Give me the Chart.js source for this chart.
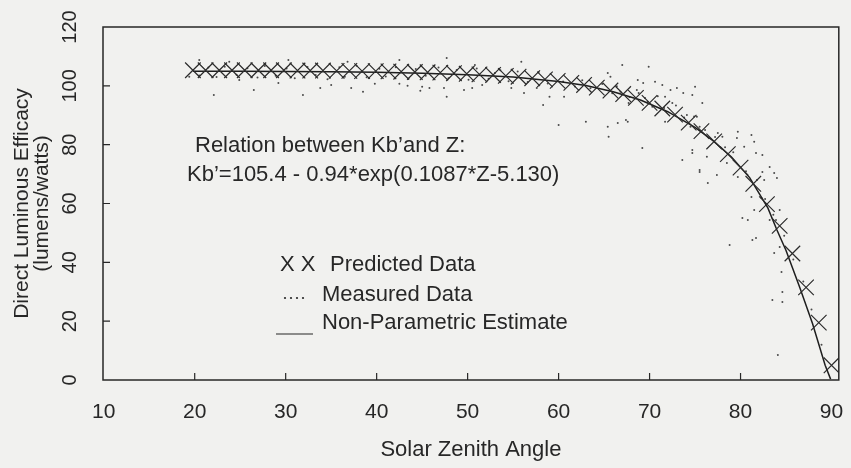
<!DOCTYPE html>
<html>
<head>
<meta charset="utf-8">
<script src="https://cdn.jsdelivr.net/npm/chart.js@4.4.1/dist/chart.umd.min.js"></script>
<style>
  html, body { margin: 0; padding: 0; background: #f1f1ef; }
  #wrap { width: 851px; height: 468px; position: relative; }
</style>
</head>
<body>
<div id="wrap"><canvas id="chart"></canvas></div>
<script>
// Predicted data (X markers)
const zenithPredicted = [
  19.8, 21.2, 22.7, 24.1, 25.5, 27.0, 28.4, 29.8, 31.3, 32.7,
  34.1, 35.6, 37.0, 38.4, 39.9, 41.3, 42.7, 44.2, 45.6, 47.0,
  48.5, 49.9, 51.3, 52.8, 54.2, 55.6, 57.1, 58.5, 59.9, 61.4,
  62.8, 64.2, 65.7, 67.1, 68.5, 70.0, 71.4, 72.8, 74.3, 75.7,
  77.1, 78.6, 80.0, 81.4, 82.9, 84.3, 85.7, 87.2, 88.6, 90.0
];
const kbPredicted = [
  105.3, 105.3, 105.3, 105.3, 105.3, 105.3, 105.3, 105.3, 105.2, 105.2,
  105.2, 105.1, 105.1, 105.0, 105.0, 104.9, 104.8, 104.7, 104.6, 104.5,
  104.3, 104.1, 103.9, 103.7, 103.4, 103.1, 102.6, 102.2, 101.7, 101.0,
  100.3, 99.4, 98.4, 97.2, 95.9, 94.2, 92.3, 90.2, 87.5, 84.6,
  81.1, 76.8, 72.2, 66.7, 59.8, 52.4, 43.0, 31.5, 19.5, 5.0
];

// Measured data (dots)
const zenithMeasured = [
  19.4, 20.5, 20.5, 21.5, 22.1, 22.4, 23.3, 23.8, 24.6, 24.9,
  25.8, 26.5, 26.9, 27.7, 28.9, 29.2, 30.1, 30.3, 31.0, 31.9,
  32.4, 33.3, 33.8, 34.6, 35.0, 35.9, 36.5, 36.8, 37.2, 37.8,
  38.5, 38.9, 39.8, 40.3, 41.0, 42.1, 42.5, 42.5, 43.4, 43.5,
  44.3, 44.8, 45.0, 45.4, 45.8, 46.8, 47.4, 47.7, 47.7, 47.9,
  48.8, 49.6, 50.1, 50.5, 50.8, 51.0, 51.6, 52.3, 53.0, 53.6,
  54.5, 54.8, 55.5, 55.9, 56.2, 56.6, 57.6, 57.8, 58.3, 58.8,
  59.0, 60.0, 60.5, 60.6, 61.8, 62.6, 63.0, 63.5, 64.8, 65.4,
  65.4, 65.5, 65.7, 65.9, 66.4, 66.5, 66.8, 67.0, 67.4, 67.6,
  67.7, 67.8, 68.6, 68.7, 68.8, 69.2, 69.3, 69.5, 69.8, 69.9,
  70.3, 70.6, 70.9, 71.4, 71.6, 71.7, 71.7, 72.3, 72.5, 72.9,
  73.0, 73.6, 73.7, 73.8, 74.1, 74.5, 74.7, 74.7, 74.7, 74.9,
  75.0, 75.2, 75.5, 75.5, 75.5, 75.8, 76.1, 76.3, 76.4, 77.2,
  77.4, 77.5, 78.0, 78.3, 78.5, 78.8, 79.2, 79.6, 79.7, 79.7,
  80.2, 80.4, 80.6, 80.8, 81.2, 81.2, 81.3, 81.5, 81.5, 81.7,
  81.7, 81.8, 82.3, 82.4, 82.4, 82.6, 82.7, 83.2, 83.2, 83.5,
  83.6, 83.7, 83.7, 83.9, 84.0, 84.1, 84.3, 84.3, 84.5, 84.6,
  84.6, 84.8, 85.8, 86.9, 87.8, 88.9
];
const kbMeasured = [
  103.1, 108.8, 103.5, 106.2, 96.9, 103.0, 106.5, 108.2, 103.8, 102.0,
  106.0, 98.6, 102.8, 106.7, 103.4, 101.0, 105.9, 108.8, 102.6, 96.9,
  106.4, 103.7, 99.3, 102.2, 100.3, 106.3, 103.1, 108.2, 99.3, 106.8,
  98.0, 102.9, 100.7, 105.8, 103.2, 106.3, 100.7, 108.8, 100.0, 102.4,
  105.7, 98.3, 99.7, 103.4, 99.3, 106.2, 99.3, 96.3, 109.5, 102.6,
  105.4, 98.6, 102.1, 99.3, 107.1, 105.9, 100.3, 102.4, 104.4, 105.3,
  101.6, 99.3, 104.9, 108.2, 97.6, 101.3, 99.3, 104.6, 93.5, 100.8,
  96.3, 86.7, 101.5, 96.3, 99.8, 101.9, 87.8, 99.2, 100.6, 104.4,
  86.1, 82.7, 103.1, 97.5, 99.9, 87.4, 98.0, 107.1, 88.4, 87.8,
  94.2, 96.2, 98.6, 102.0, 97.6, 78.9, 101.0, 95.9, 94.6, 106.5,
  92.9, 101.4, 96.5, 100.3, 92.5, 96.3, 87.8, 98.6, 94.2, 93.3,
  99.3, 74.8, 97.6, 89.2, 90.1, 86.1, 96.9, 78.2, 77.2, 89.6,
  99.7, 89.5, 71.4, 86.1, 70.7, 94.2, 85.0, 75.9, 67.0, 82.6,
  69.7, 84.0, 82.7, 79.1, 73.8, 45.9, 77.4, 82.3, 84.4, 69.0,
  55.1, 79.3, 71.0, 54.4, 83.3, 62.2, 47.6, 81.0, 57.8, 77.2,
  48.3, 68.0, 61.9, 76.5, 70.7, 68.0, 61.5, 72.4, 54.4, 27.2,
  56.2, 70.4, 43.2, 54.4, 68.7, 8.5, 57.8, 45.2, 36.7, 29.9,
  26.5, 49.0, 41.0, 33.5, 24.0, 12.0
];

// Non-parametric estimate (solid line)
const zenithEstimate = [19.8, 25, 30, 35, 40, 45, 50, 55, 60, 63, 66, 69, 72, 75, 77, 79, 81, 83, 84, 85, 86.5, 87.9, 89.3, 89.9];
const kbEstimate = [105.0, 105.0, 104.9, 104.8, 104.6, 104.3, 103.8, 103.0, 101.5, 100.1, 98.0, 95.2, 91.2, 85.9, 81.3, 75.8, 68.8, 58.5, 51.0, 44.0, 31.5, 19.3, 5.0, 0.3];

const xTicks = [10, 20, 30, 40, 50, 60, 70, 80, 90];
const yTicks = [0, 20, 40, 60, 80, 100, 120];

const ink = "#272727";
const family = "'Liberation Sans', Arial, Helvetica, sans-serif";

function toPoints(xs, ys) {
  return xs.map((x, i) => ({ x: x, y: ys[i] }));
}

// frame, inward ticks, tick labels, note and key text
const paperPlugin = {
  id: "paper",
  afterDraw(chart) {
    const { ctx, chartArea: a, scales: { x, y } } = chart;
    ctx.save();
    ctx.strokeStyle = ink;
    ctx.lineWidth = 1.5;
    ctx.strokeRect(a.left, a.top, a.right - a.left, a.bottom - a.top);

    ctx.lineWidth = 1.2;
    ctx.beginPath();
    xTicks.slice(1, -1).forEach(v => {
      const px = x.getPixelForValue(v);
      ctx.moveTo(px, a.bottom);
      ctx.lineTo(px, a.bottom - 7);
    });
    yTicks.slice(1, -1).forEach(v => {
      const py = y.getPixelForValue(v);
      ctx.moveTo(a.left, py);
      ctx.lineTo(a.left + 7, py);
    });
    ctx.stroke();

    ctx.fillStyle = ink;
    ctx.textAlign = "center";
    ctx.textBaseline = "middle";
    ctx.font = "21px " + family;
    xTicks.forEach(v => ctx.fillText(String(v), x.getPixelForValue(v), a.bottom + 32));
    ctx.font = "20px " + family;
    yTicks.forEach(v => {
      ctx.save();
      ctx.translate(a.left - 33, y.getPixelForValue(v));
      ctx.rotate(-Math.PI / 2);
      ctx.fillText(String(v), 0, 0);
      ctx.restore();
    });

    // relation note
    ctx.textAlign = "left";
    ctx.font = "22px " + family;
    ctx.fillText("Relation between Kb\u2019and Z:", 195, 146);
    ctx.fillText("Kb\u2019=105.4 - 0.94*exp(0.1087*Z-5.130)", 187, 175);

    // key
    ctx.fillText("X X", 280, 265);
    ctx.fillText("Predicted Data", 330, 265);
    [285, 291, 297, 303].forEach(dx => {
      ctx.beginPath();
      ctx.arc(dx, 298, 1.1, 0, Math.PI * 2);
      ctx.fill();
    });
    ctx.fillText("Measured Data", 322, 295);
    ctx.beginPath();
    ctx.moveTo(276, 334);
    ctx.lineTo(313, 334);
    ctx.stroke();
    ctx.fillText("Non-Parametric Estimate", 322, 323);
    ctx.restore();
  }
};

new Chart(document.getElementById("chart"), {
  type: "scatter",
  data: {
    datasets: [
      {
        label: "Predicted Data",
        data: toPoints(zenithPredicted, kbPredicted),
        pointStyle: "crossRot",
        pointRadius: 11,
        borderColor: "#2c2c2c",
        borderWidth: 1.2,
        showLine: false,
        order: 1
      },
      {
        label: "Non-Parametric Estimate",
        data: toPoints(zenithEstimate, kbEstimate),
        showLine: true,
        pointRadius: 0,
        borderColor: "#1e1e1e",
        borderWidth: 1.5,
        order: 2
      },
      {
        label: "Measured Data",
        data: toPoints(zenithMeasured, kbMeasured),
        pointStyle: "circle",
        pointRadius: 1,
        backgroundColor: "#4a4a4a",
        borderWidth: 0,
        order: 3
      }
    ]
  },
  options: {
    responsive: true,
    maintainAspectRatio: false,
    animation: false,
    layout: { padding: { top: 27, right: 6, left: 0, bottom: 0 } },
    plugins: {
      legend: { display: false },
      tooltip: { enabled: false }
    },
    scales: {
      x: {
        type: "linear",
        min: 9.92,
        max: 90.8,
        grid: { display: false, drawTicks: false },
        border: { display: false },
        ticks: { display: false },
        title: {
          display: true,
          text: "Solar Zenith Angle",
          color: ink,
          font: { family: family, size: 22, lineHeight: 1.2 },
          padding: { top: 0, bottom: 5 }
        },
        afterFit(scale) { scale.height = 88; }
      },
      y: {
        type: "linear",
        min: 0,
        max: 120,
        grid: { display: false, drawTicks: false },
        border: { display: false },
        ticks: { display: false },
        title: {
          display: true,
          text: ["Direct Luminous Efficacy", "(lumens/watts)"],
          color: ink,
          font: { family: family, size: 21, lineHeight: "20px" },
          padding: { top: 12, bottom: 0 }
        },
        afterFit(scale) { scale.width = 103; }
      }
    }
  },
  plugins: [paperPlugin]
});
</script>
</body>
</html>
